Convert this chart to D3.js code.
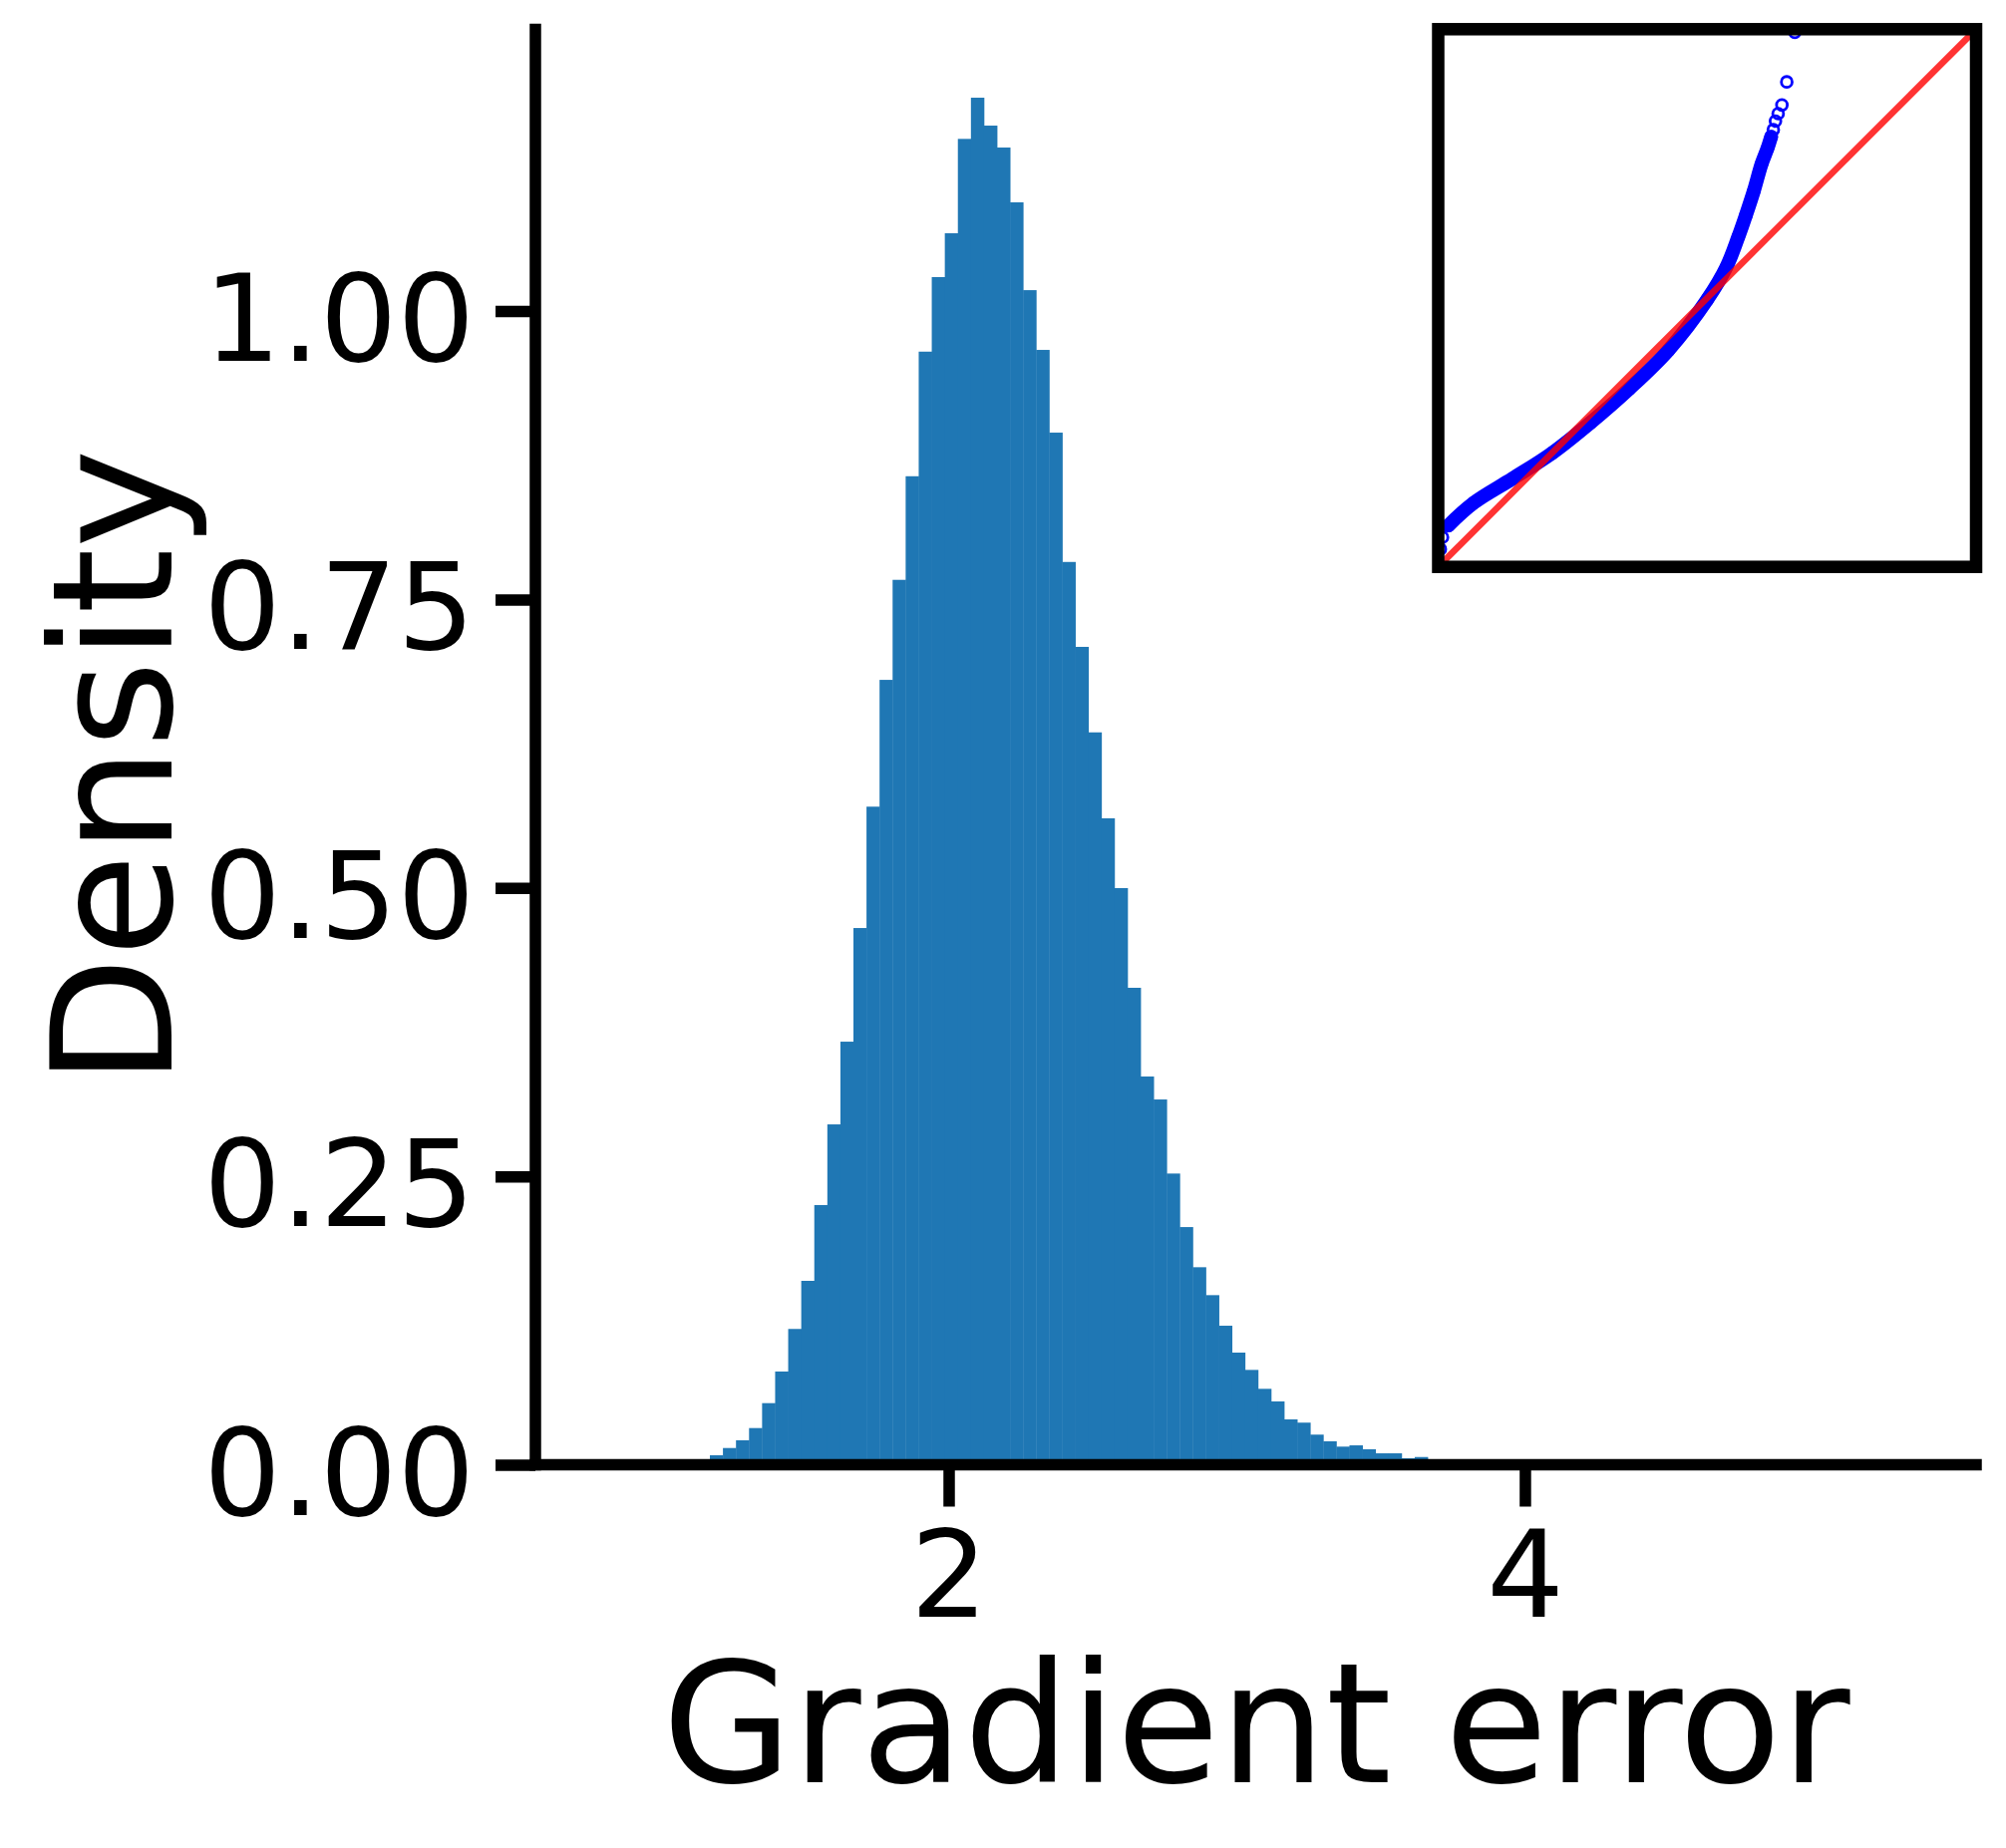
<!DOCTYPE html>
<html><head><meta charset="utf-8">
<script src="https://cdn.jsdelivr.net/npm/d3@7"></script>
<style>body{margin:0;background:#fff}svg{display:block}</style>
</head><body>
<svg id="c" width="2012" height="1854"></svg>
<script>
// ---- histogram data (density per bin) ----
const binStart = 1.1713;     // left edge of first listed bin (Gradient error)
const binWidth = 0.0453;
const densities = [0.0082,0.0145,0.0212,0.0318,0.0534,0.0808,0.1177,0.1594,0.2251,0.2950,
  0.3667,0.4652,0.5704,0.6803,0.7670,0.8568,0.9648,1.0294,1.0674,1.1492,
  1.1849,1.1607,1.1417,1.0942,1.0181,0.9663,0.8946,0.7825,0.7089,0.6348,
  0.5603,0.4998,0.4134,0.3365,0.3166,0.2524,0.2060,0.1712,0.1470,0.1205,
  0.0972,0.0822,0.0658,0.0549,0.0393,0.0365,0.0261,0.0203,0.0157,0.0168,
  0.0134,0.0099,0.0099,0.0056,0.0067,0.004,0.003,0.002,0.002,0.001];
const xDomain = [0.5657, 5.566];
const yDomain = [0, 1.2441];
const xTicks = [2, 4];
const xTickLabels = ["2", "4"];
const yTicks = [0, 0.25, 0.5, 0.75, 1.0];
const yTickLabels = ["0.00", "0.25", "0.50", "0.75", "1.00"];
const xLabel = "Gradient error";
const yLabel = "Density";

// ---- inset Q-Q data (normalised to inset limits) ----
const qqTheoretical = [0.004,0.008,0.019,0.066,0.138,0.211,0.283,0.355,0.428,0.500,0.536,0.558,0.572,0.587,0.601,0.612,0.619,0.623,0.627,0.632,0.639,0.648,0.663];
const qqSample      = [0.033,0.055,0.077,0.119,0.164,0.211,0.268,0.331,0.403,0.497,0.558,0.614,0.654,0.700,0.749,0.778,0.800,0.813,0.829,0.843,0.859,0.902,0.994];
const denseCount = 17;       // first points form a continuous dense band
const refLine = [0, 1];

const svg = d3.select("#c");
const font = "DejaVu Sans";

const x = d3.scaleLinear().domain(xDomain).range([537, 1982]);
const y = d3.scaleLinear().domain(yDomain).range([1469.5, 29.5]);

// bars
const bins = densities.map((d, i) => ({x0: binStart + i * binWidth, x1: binStart + (i + 1) * binWidth, v: d}));
svg.append("g").selectAll("rect").data(bins).join("rect")
  .attr("x", d => x(d.x0))
  .attr("width", d => x(d.x1) - x(d.x0) + 0.4)
  .attr("y", d => y(d.v))
  .attr("height", d => y(0) - y(d.v))
  .attr("fill", "#1f77b4");

// axes
const lw = 11.5;
const yAxis = d3.axisLeft(y).tickValues(yTicks).tickFormat((d, i) => yTickLabels[i]).tickSize(40).tickPadding(21);
const gy = svg.append("g").attr("transform", "translate(537,0)").call(yAxis);
const xAxis = d3.axisBottom(x).tickValues(xTicks).tickFormat((d, i) => xTickLabels[i]).tickSize(42);
const gx = svg.append("g").attr("transform", "translate(0,1469.5)").call(xAxis);
[gx, gy].forEach(g => {
  g.select(".domain").remove();
  g.selectAll(".tick line").attr("stroke", "#000").attr("stroke-width", lw);
  g.selectAll(".tick text").attr("fill", "#000").attr("font-family", font).attr("font-size", 122);
});
gy.selectAll(".tick text").attr("dy", "0.406em");
gx.selectAll(".tick text").attr("y", 152.5).attr("dy", 0);

// spines
svg.append("line").attr("x1", 537).attr("x2", 537).attr("y1", y(yDomain[1])).attr("y2", y(0))
  .attr("stroke", "#000").attr("stroke-width", lw).attr("stroke-linecap", "square");
svg.append("line").attr("x1", x(xDomain[0])).attr("x2", x(xDomain[1])).attr("y1", 1469.5).attr("y2", 1469.5)
  .attr("stroke", "#000").attr("stroke-width", lw).attr("stroke-linecap", "square");

// axis labels
svg.append("text").attr("x", 1260).attr("y", 1788).attr("text-anchor", "middle")
  .attr("font-family", font).attr("font-size", 168).attr("fill", "#000").text(xLabel);
svg.append("text").attr("transform", "translate(172,770) rotate(-90)").attr("text-anchor", "middle")
  .attr("font-family", font).attr("font-size", 168).attr("fill", "#000").text(yLabel);

// inset
const xi = d3.scaleLinear().domain([0, 1]).range([1442.5, 1982]);
const yi = d3.scaleLinear().domain([0, 1]).range([568.7, 29.3]);
svg.append("defs").append("clipPath").attr("id", "inclip").append("rect")
  .attr("x", xi(0)).attr("y", yi(1)).attr("width", xi(1) - xi(0)).attr("height", yi(0) - yi(1));
const gi = svg.append("g");
gi.append("rect").attr("x", xi(0)).attr("y", yi(1)).attr("width", xi(1) - xi(0)).attr("height", yi(0) - yi(1)).attr("fill", "#fff");
const pts = qqTheoretical.map((t, i) => ({t, s: qqSample[i]}));
const gc = gi.append("g").attr("clip-path", "url(#inclip)");
gc.append("path").datum(pts.slice(2, denseCount))
  .attr("d", d3.line().x(d => xi(d.t)).y(d => yi(d.s)).curve(d3.curveCatmullRom))
  .attr("fill", "none").attr("stroke", "#0000ff").attr("stroke-width", 14).attr("stroke-linecap", "round");
gc.selectAll("circle").data(pts).join("circle")
  .attr("cx", d => xi(d.t)).attr("cy", d => yi(d.s)).attr("r", 5.4)
  .attr("fill", "none").attr("stroke", "#0000ff").attr("stroke-width", 2.8);
gc.append("line").attr("x1", xi(refLine[0])).attr("y1", yi(refLine[0])).attr("x2", xi(refLine[1])).attr("y2", yi(refLine[1]))
  .attr("stroke", "#ff0000").attr("stroke-opacity", 0.8).attr("stroke-width", 6.5);
gi.append("rect").attr("x", xi(0)).attr("y", yi(1)).attr("width", xi(1) - xi(0)).attr("height", yi(0) - yi(1))
  .attr("fill", "none").attr("stroke", "#000").attr("stroke-width", 12.5);
</script>
</body></html>
